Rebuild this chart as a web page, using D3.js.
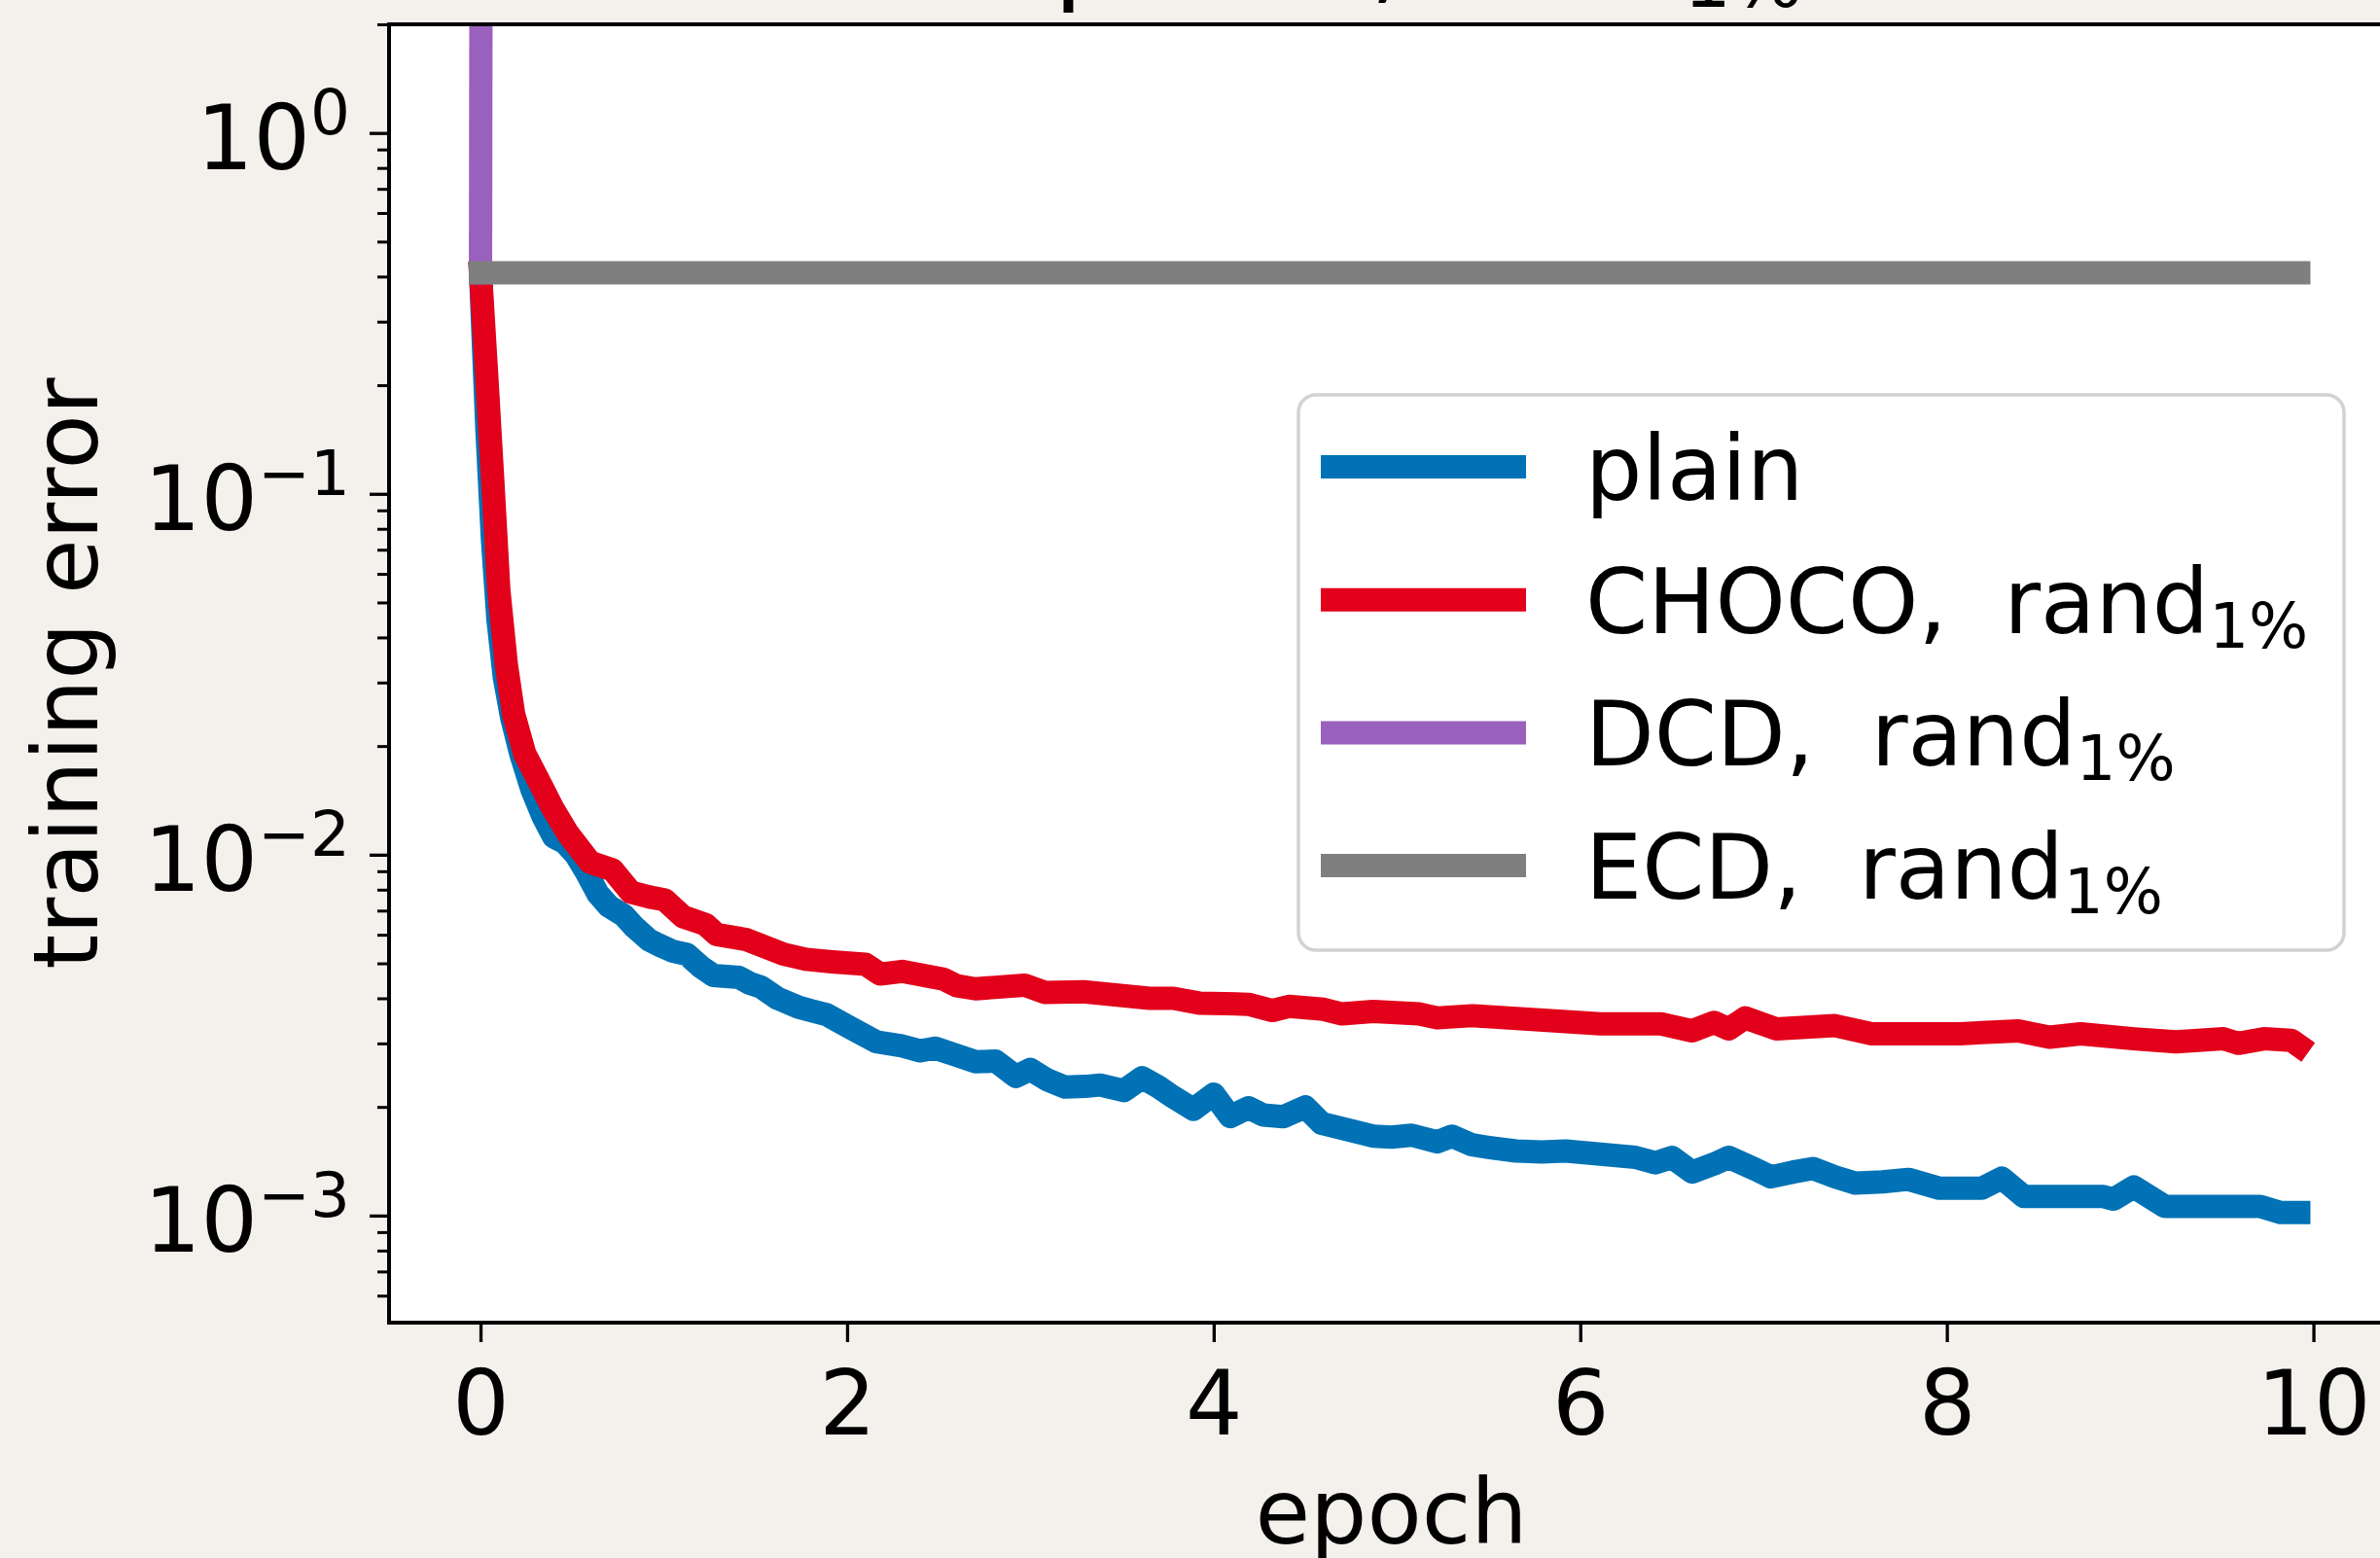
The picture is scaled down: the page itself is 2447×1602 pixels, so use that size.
<!DOCTYPE html>
<html>
<head>
<meta charset="utf-8">
<script src="https://cdn.jsdelivr.net/npm/d3@7"></script>
<style>
  body { margin: 0; background: #f4f1ed; }
  svg { display: block; font-family: "DejaVu Sans", sans-serif; }
</style>
</head>
<body>
<div id="chart"></div>
<script>
// Training error vs epoch (epsilon, rand 1%), log y axis

// --- data ---
const plainEpoch = [0, 0.035, 0.065, 0.095, 0.13, 0.17, 0.22, 0.28, 0.34, 0.40, 0.46, 0.52, 0.58, 0.64, 0.70, 0.78, 0.84, 0.92, 0.98,
    1.05, 1.125, 1.20, 1.27, 1.34, 1.41, 1.47, 1.53, 1.62, 1.735, 1.80, 1.89, 2.02, 2.16, 2.29, 2.40, 2.48, 2.59, 2.70, 2.81, 2.92,
    3.00, 3.09, 3.19, 3.30, 3.38, 3.51, 3.61, 3.70, 3.78, 3.89, 4.00, 4.09, 4.19, 4.27, 4.38, 4.50, 4.59, 4.73, 4.87, 4.97,
    5.08, 5.22, 5.30, 5.41, 5.52, 5.65, 5.79, 5.92, 6.11, 6.30, 6.41, 6.50, 6.61, 6.73, 6.81, 6.96, 7.04, 7.16, 7.27, 7.39,
    7.50, 7.65, 7.79, 7.96, 8.07, 8.19, 8.30, 8.42, 8.62, 8.73, 8.85, 8.91, 9.02, 9.19, 9.45, 9.59, 9.71, 9.82, 9.92];
const plainErr = [0.41, 0.15, 0.075, 0.045, 0.031, 0.024, 0.019, 0.0152, 0.0128, 0.0112, 0.0108, 0.0100, 0.0089, 0.0078, 0.0072, 0.0068, 0.0063, 0.0058, 0.0056,
    0.0054, 0.0053, 0.0049, 0.00463, 0.0046, 0.00457, 0.0044, 0.0043, 0.0040, 0.00378, 0.0037, 0.0036, 0.00331, 0.00303, 0.00296, 0.00286, 0.00291, 0.00279, 0.00267, 0.00268, 0.00243,
    0.00254, 0.00238, 0.00227, 0.00228, 0.0023, 0.00222, 0.00241, 0.00227, 0.00213, 0.00197, 0.00217, 0.00188, 0.00199, 0.0019, 0.00188, 0.0020, 0.0018, 0.00173, 0.00166, 0.00165,
    0.00167, 0.0016, 0.00166, 0.00157, 0.00154, 0.00151, 0.0015, 0.00151, 0.00148, 0.00145, 0.0014, 0.00145, 0.00132, 0.00139, 0.00145, 0.00134, 0.00128, 0.00132, 0.00135, 0.00128,
    0.00123, 0.00124, 0.00126, 0.00119, 0.00119, 0.00119, 0.00127, 0.00113, 0.00113, 0.00113, 0.00113, 0.00111, 0.0012, 0.00106, 0.00106, 0.00106, 0.00106, 0.00102, 0.00102];

const chocoEpoch = [0, 0.039, 0.070, 0.100, 0.141, 0.181, 0.242, 0.313, 0.395, 0.476, 0.598, 0.72, 0.82, 0.923, 1.004, 1.105, 1.227, 1.288,
    1.45, 1.654, 1.775, 1.917, 2.10, 2.18, 2.30, 2.525, 2.60, 2.70, 2.97, 3.08, 3.29, 3.65, 3.78, 3.92, 4.19, 4.32, 4.41, 4.60,
    4.70, 4.87, 5.12, 5.22, 5.41, 5.84, 6.11, 6.44, 6.61, 6.73, 6.81, 6.90, 7.07, 7.39, 7.59, 8.07, 8.39, 8.56, 8.73, 9.02,
    9.25, 9.51, 9.59, 9.73, 9.88, 9.92];
const chocoErr = [0.41, 0.192, 0.102, 0.054, 0.0336, 0.0245, 0.019, 0.0162, 0.01342, 0.01146, 0.00953, 0.00908, 0.00787, 0.00763, 0.0075, 0.00673, 0.00641, 0.00601,
    0.00582, 0.0053, 0.00513, 0.00505, 0.00497, 0.00467, 0.00475, 0.00452, 0.00433, 0.00425, 0.00435, 0.00415, 0.00417, 0.0040, 0.0040, 0.00388, 0.00385, 0.0037, 0.0038, 0.00373,
    0.00362, 0.00368, 0.00362, 0.00353, 0.00358, 0.00347, 0.0034, 0.0034, 0.00325, 0.00343, 0.00329, 0.00353, 0.00329, 0.00336, 0.00319, 0.00319, 0.00325, 0.00312, 0.00319, 0.00309,
    0.00303, 0.00309, 0.003, 0.00309, 0.00306, 0.00296];

// DCD diverges right after the start
const dcdEpoch = [0, 0.02];
const dcdErr = [0.41, 1e6];

// ECD stays flat
const ecdEpoch = [0, 9.92];
const ecdErr = [0.41, 0.41];

const seriesNames = ["plain", "CHOCO,  rand", "DCD,  rand", "ECD,  rand"];
const seriesSubs = ["", "1%", "1%", "1%"];
const seriesColors = ["#0072b5", "#e2001a", "#9a60bd", "#7f7f7f"];

const xTicks = [0, 2, 4, 6, 8, 10];
const yMajorTicks = [1e-3, 1e-2, 1e-1, 1];
const yTickExponents = ["\u22123", "\u22122", "\u22121", "0"];

const titleMain = "epsilon, rand";
const titleSub = "1%";
const xLabel = "epoch";
const yLabel = "training error";

// --- layout ---
const W = 2447, H = 1602;
const margin = { top: 25, left: 400 };
const width = 2069, height = 1335;
const fs = 92;
const lw = 24;

const svgRoot = d3.select("#chart")
    .append("svg")
    .attr("width", W)
    .attr("height", H);

const svg = svgRoot.append("g")
    .attr("transform", `translate(${margin.left},${margin.top})`);

const x = d3.scaleLinear().domain([-0.499, 10.48]).range([0, width]);
const y = d3.scaleLog().domain([5.05e-4, 2.0]).range([height, 0]);

// plot background
svg.append("rect")
    .attr("width", width)
    .attr("height", height)
    .attr("fill", "#fff");

svg.append("clipPath").attr("id", "clip")
    .append("rect").attr("width", width).attr("height", height);

// lines
const series = [
    d3.zip(plainEpoch, plainErr),
    d3.zip(chocoEpoch, chocoErr),
    d3.zip(dcdEpoch, dcdErr),
    d3.zip(ecdEpoch, ecdErr)
];

const line = d3.line()
    .x(d => x(d[0]))
    .y(d => y(d[1]));

svg.append("g")
    .attr("clip-path", "url(#clip)")
    .selectAll("path")
    .data(series)
    .enter()
    .append("path")
    .attr("fill", "none")
    .attr("stroke", (d, i) => seriesColors[i])
    .attr("stroke-width", lw)
    .attr("stroke-linecap", "square")
    .attr("stroke-linejoin", "round")
    .attr("d", line);

// y minor ticks
const yMinor = y.ticks().filter(v => !yMajorTicks.some(m => Math.abs(m - v) / m < 1e-9));
svg.append("g")
    .call(d3.axisLeft(y).tickValues(yMinor).tickSize(12).tickFormat(""))
    .call(g => g.select(".domain").remove())
    .call(g => g.selectAll("line").attr("stroke", "#000").attr("stroke-width", 3));

// y major ticks with 10^k labels
const yAxis = svg.append("g")
    .call(d3.axisLeft(y).tickValues(yMajorTicks).tickSize(20).tickPadding(20))
    .call(g => g.select(".domain").remove())
    .call(g => g.selectAll("line").attr("stroke", "#000").attr("stroke-width", 3.3));

yAxis.selectAll("text")
    .attr("font-size", fs)
    .attr("font-family", "DejaVu Sans")
    .attr("fill", "#000")
    .attr("dy", 37)
    .each(function(d, i) {
        const t = d3.select(this).text("");
        t.append("tspan").text("10");
        t.append("tspan").attr("font-size", fs * 0.7).attr("dy", -36).text(yTickExponents[i]);
    });

// x axis
svg.append("g")
    .attr("transform", `translate(0,${height})`)
    .call(d3.axisBottom(x).tickValues(xTicks).tickSize(20).tickPadding(30))
    .call(g => g.select(".domain").remove())
    .call(g => g.selectAll("line").attr("stroke", "#000").attr("stroke-width", 3.3))
    .call(g => g.selectAll("text").attr("font-size", fs).attr("font-family", "DejaVu Sans").attr("fill", "#000"));

// spines
svg.append("rect")
    .attr("width", width)
    .attr("height", height)
    .attr("fill", "none")
    .attr("stroke", "#000")
    .attr("stroke-width", 4);

// title (mostly above the crop)
const title = svg.append("text")
    .attr("x", width / 2)
    .attr("y", -35)
    .attr("text-anchor", "middle")
    .attr("font-size", 110);
title.append("tspan").text(titleMain);
title.append("tspan").attr("font-size", 77).attr("dy", 17).text(titleSub);

// axis labels
svg.append("text")
    .attr("x", width / 2 - 4)
    .attr("y", 1562)
    .attr("text-anchor", "middle")
    .attr("font-size", fs)
    .text(xLabel);

svg.append("text")
    .attr("transform", `translate(-300,${height / 2}) rotate(-90)`)
    .attr("text-anchor", "middle")
    .attr("font-size", fs)
    .text(yLabel);

// legend
const legend = svgRoot.append("g").attr("transform", "translate(1335,406)");
legend.append("rect")
    .attr("width", 1075)
    .attr("height", 571)
    .attr("rx", 18)
    .attr("fill", "#fff")
    .attr("fill-opacity", 0.85)
    .attr("stroke", "#d2d2d2")
    .attr("stroke-width", 3.5);

seriesNames.forEach((name, i) => {
    const cy = 74 + i * 136.7;
    legend.append("line")
        .attr("x1", 35).attr("x2", 222)
        .attr("y1", cy).attr("y2", cy)
        .attr("stroke", seriesColors[i])
        .attr("stroke-width", lw)
        .attr("stroke-linecap", "square");
    const t = legend.append("text")
        .attr("x", 295)
        .attr("y", cy + 34)
        .attr("font-size", fs)
        .style("white-space", "pre");
    t.append("tspan").text(name);
    if (seriesSubs[i]) {
        t.append("tspan").attr("font-size", fs * 0.7).attr("dy", 15).text(seriesSubs[i]);
    }
});
</script>
</body>
</html>
